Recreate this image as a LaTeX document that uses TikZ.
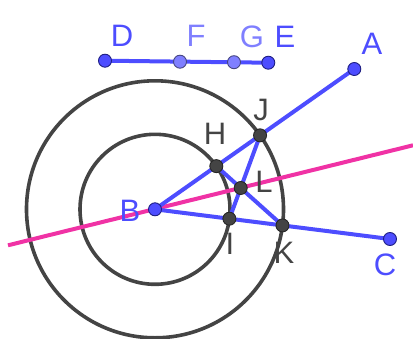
\documentclass[tikz,border=0pt]{standalone}
\usepackage{fontspec}
\setmainfont{Liberation Sans}
\usetikzlibrary{calc,intersections}
\definecolor{gblue}{RGB}{77,77,255}
\definecolor{gbluedark}{RGB}{30,30,130}
\definecolor{glight}{RGB}{127,127,255}
\definecolor{glightdark}{RGB}{70,70,130}
\definecolor{gdark}{RGB}{68,68,68}
\definecolor{gpink}{RGB}{240,50,165}
\tikzset{
  ptbase/.style={circle,inner sep=0pt,minimum size=13pt,line width=0.9pt},
  bluept/.style={ptbase,fill=gblue,draw=gbluedark},
  lightpt/.style={ptbase,fill=glight,draw=glightdark},
  darkpt/.style={ptbase,fill=gdark,draw=black!85},
  lbl/.style={font=\fontsize{31}{32}\selectfont,inner sep=0pt,anchor=center},
  bluelbl/.style={lbl,text=gblue},
  lightlbl/.style={lbl,text=glight},
  darklbl/.style={lbl,text=gdark},
  bline/.style={draw=gblue,line width=4pt},
  circ/.style={draw=gdark,line width=3.6pt},
  pinkline/.style={draw=gpink,line width=4pt}
}
\begin{document}
\begin{tikzpicture}[x=1pt,y=-1pt]
\useasboundingbox (0,0) rectangle (413,338);
% base points
\coordinate (A) at (354.3,69);
\coordinate (B) at (155,209.3);
\coordinate (C) at (390,239);
\coordinate (D) at (105,60.7);
\coordinate (E) at (268.3,62.7);
\coordinate (F) at (180,61.7);
\coordinate (G) at (234,62.2);
\coordinate (H) at ($(B)!75pt!(A)$);
\coordinate (J) at ($(B)!128.5pt!(A)$);
\coordinate (I) at ($(B)!75pt!(C)$);
\coordinate (K) at ($(B)!128.5pt!(C)$);
\coordinate (L) at (intersection of J--I and H--K);
\coordinate (p1) at (8,245.3);
\coordinate (p2) at (413,145.3);
% circles
\draw[circ] (B) circle[radius=75];
\draw[circ] (B) circle[radius=128.5];
% bisector
\draw[pinkline] (p1) -- (p2);
% segments
\draw[bline] (D) -- (E);
\draw[bline] (B) -- (A);
\draw[bline] (B) -- (C);
\draw[bline] (J) -- (I);
\draw[bline] (H) -- (K);
% points
\node[bluept] (nD) at (D) {};
\node[lightpt] (nF) at (F) {};
\node[lightpt] (nG) at (G) {};
\node[bluept] (nE) at (E) {};
\node[bluept] (nA) at (A) {};
\node[bluept] (nB) at (B) {};
\node[bluept] (nC) at (C) {};
\node[darkpt] (nH) at (H) {};
\node[darkpt] (nJ) at (J) {};
\node[darkpt] (nI) at (I) {};
\node[darkpt] (nK) at (K) {};
\node[darkpt] (nL) at (L) {};
% labels
\node[bluelbl] (tD) at (122,36) {D};
\node[lightlbl] (tF) at (196,36) {F};
\node[lightlbl] (tG) at (252,37) {G};
\node[bluelbl] (tE) at (285,37) {E};
\node[bluelbl] (tA) at (372,44) {A};
\node[darklbl] (tJ) at (261,110) {J};
\node[darklbl] (tH) at (215,134) {H};
\node[darklbl] (tL) at (264,182) {L};
\node[bluelbl] (tB) at (130,211) {B};
\node[darklbl] (tI) at (230,244) {I};
\node[darklbl] (tK) at (284,253) {K};
\node[bluelbl] (tC) at (385,265) {C};
\end{tikzpicture}
\end{document}
